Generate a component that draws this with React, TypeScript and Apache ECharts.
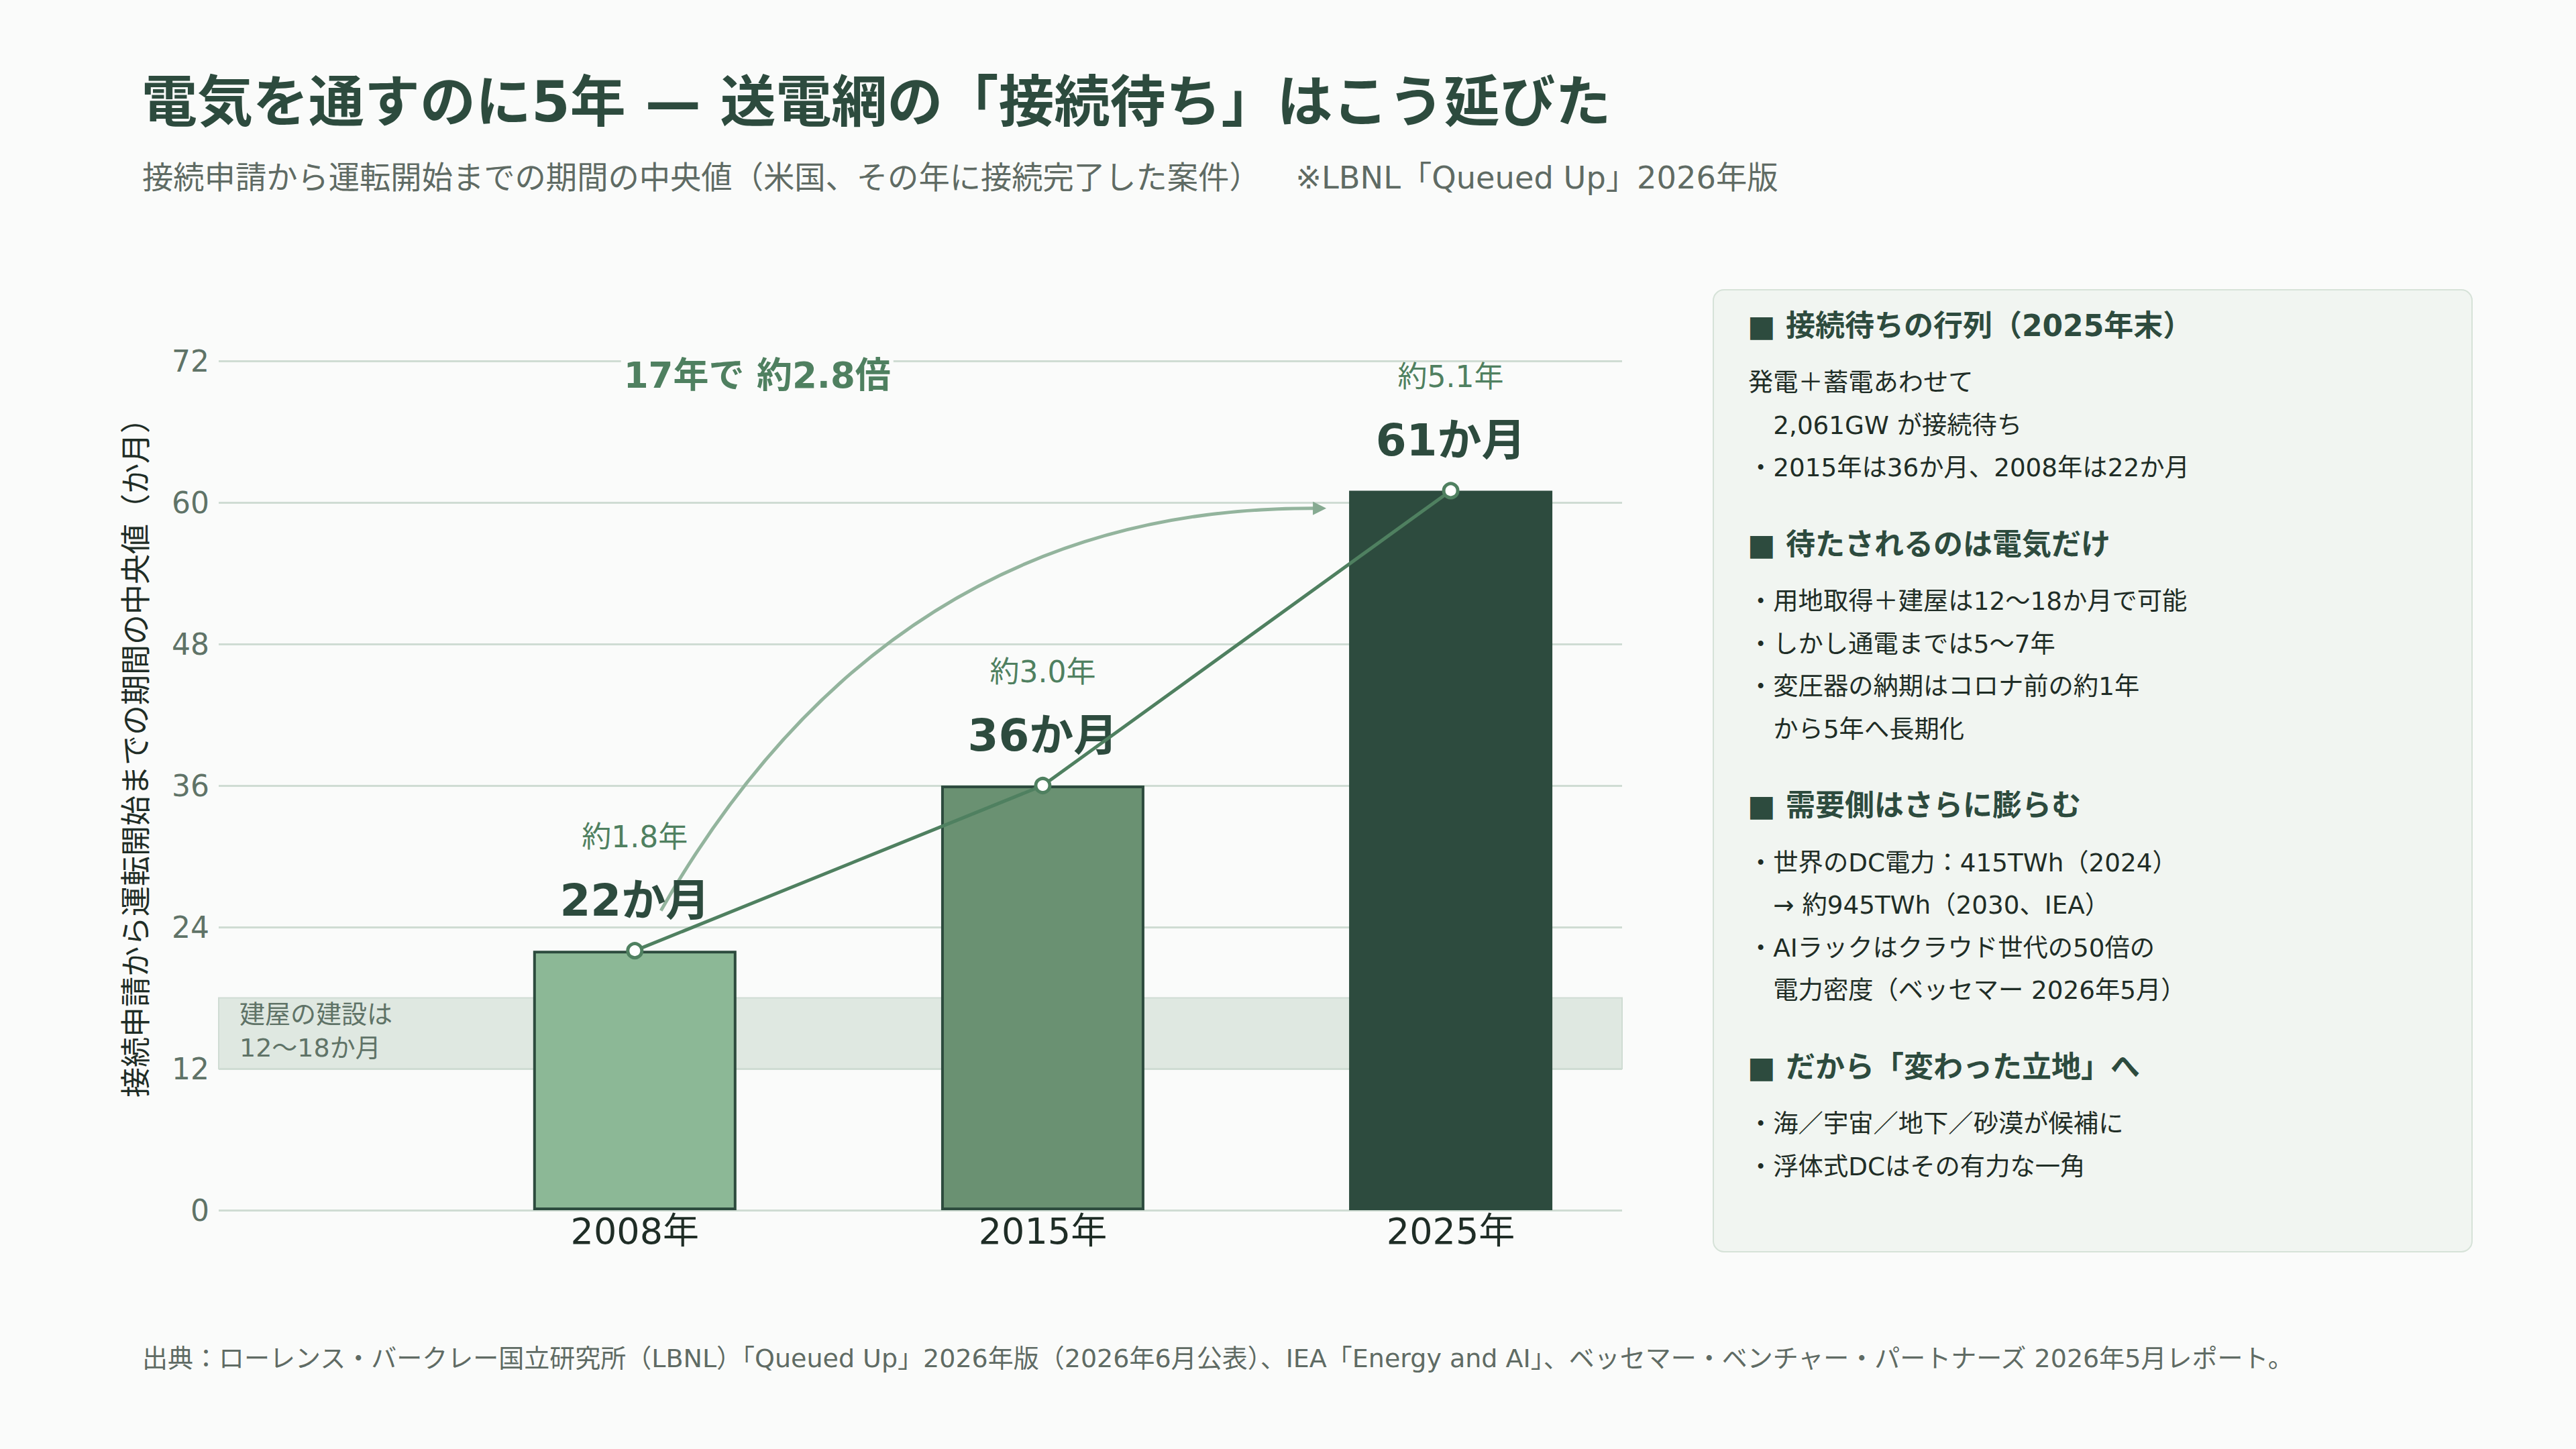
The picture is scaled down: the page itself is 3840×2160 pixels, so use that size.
import React, { useEffect, useRef } from 'react';
import * as echarts from 'echarts';

// ---- data ----
const categories = ['2008年', '2015年', '2025年'];
const xPositions = [0, 1, 2];
const months = [22, 36, 61];
const yearLabels = ['約1.8年', '約3.0年', '約5.1年'];
const barColors = ['#8cb896', '#6a9172', '#2d4b3e'];
const buildBand = [12, 18];
const buildBandLabel = '建屋の建設は\n12〜18か月';
const ratioLabel = '17年で 約2.8倍';
const yAxisName = '接続申請から運転開始までの期間の中央値（か月）';

const titleText = '電気を通すのに5年 — 送電網の「接続待ち」はこう延びた';
const subtitleText = '接続申請から運転開始までの期間の中央値（米国、その年に接続完了した案件）　  ※LBNL「Queued Up」2026年版';
const footerText = '出典：ローレンス・バークレー国立研究所（LBNL）「Queued Up」2026年版（2026年6月公表）、IEA「Energy and AI」、ベッセマー・ベンチャー・パートナーズ 2026年5月レポート。';

const panelHeads = [
  '■ 接続待ちの行列（2025年末）',
  '■ 待たされるのは電気だけ',
  '■ 需要側はさらに膨らむ',
  '■ だから「変わった立地」へ',
];
const panelLines1 = ['発電＋蓄電あわせて', '　2,061GW が接続待ち', '・2015年は36か月、2008年は22か月'];
const panelLines2 = ['・用地取得＋建屋は12〜18か月で可能', '・しかし通電までは5〜7年', '・変圧器の納期はコロナ前の約1年', '　から5年へ長期化'];
const panelLines3 = ['・世界のDC電力：415TWh（2024）', '　→ 約945TWh（2030、IEA）', '・AIラックはクラウド世代の50倍の', '　電力密度（ベッセマー 2026年5月）'];
const panelLines4 = ['・海／宇宙／地下／砂漠が候補に', '・浮体式DCはその有力な一角'];
const panelSections = [panelLines1, panelLines2, panelLines3, panelLines4];

// annotation anchors (data space)
const arrowStart = [0.064, 25.4];
const arrowCtrl = [0.632, 59.7];
const arrowTip = [1.695, 59.5];
const ratioAnchor = [0.3, 70.75];

const FONT = '"DejaVu Sans", "Noto Sans CJK JP", sans-serif';
const DARK = '#2d4b3e';
const MID = '#4f8060';
const TEXT = '#1f2d26';
const GREY = '#5f6b64';
const BG = '#fafbfa';

export default function App() {
  const ref = useRef<HTMLDivElement>(null);

  useEffect(() => {
    document.body.style.margin = '0';
    const chart = echarts.init(ref.current!, null, { renderer: 'svg' });

    const option: any = {
      animation: false,
      backgroundColor: BG,
      textStyle: { fontFamily: FONT },
      grid: { left: 326, right: 1422, top: 538, bottom: 356 },
      xAxis: {
        type: 'value',
        min: -1.02,
        max: 2.42,
        axisLine: { show: false },
        axisTick: { show: false },
        splitLine: { show: false },
        axisLabel: {
          customValues: xPositions,
          formatter: (v: number) => categories[Math.round(v)] ?? '',
          fontSize: 54,
          color: TEXT,
          margin: 4,
          fontFamily: FONT,
        },
      },
      yAxis: {
        type: 'value',
        min: 0,
        max: 72,
        interval: 12,
        name: yAxisName,
        nameLocation: 'middle',
        nameRotate: 90,
        nameGap: 100,
        nameTextStyle: { fontSize: 45, color: TEXT, fontFamily: FONT, padding: [0, 0, 0, 105] },
        axisLine: { show: false },
        axisTick: { show: false },
        axisLabel: { fontSize: 44, color: '#5f7367', margin: 14, fontFamily: FONT },
        splitLine: { show: true, lineStyle: { color: '#cfdcd3', width: 3 } },
      },
      series: [
        {
          type: 'bar',
          barWidth: 303,
          data: months.map((v, i) => ({
            value: [xPositions[i], v],
            itemStyle: { color: barColors[i], borderColor: DARK, borderWidth: 4 },
          })),
          label: {
            show: true,
            position: 'top',
            distance: 30,
            formatter: (p: any) => `{a|${yearLabels[p.dataIndex]}}\n{b|${months[p.dataIndex]}か月}`,
            rich: {
              a: { fontSize: 44, color: MID, lineHeight: 100, fontFamily: FONT },
              b: { fontSize: 66, fontWeight: 'bold', color: DARK, lineHeight: 90, fontFamily: FONT },
            },
          },
          markArea: {
            silent: true,
            itemStyle: { color: '#dfe8e1', borderColor: '#cfdcd3', borderWidth: 2 },
            label: {
              show: true,
              position: 'insideTopLeft',
              distance: 0,
              padding: [0, 0, 0, 32],
              fontSize: 38,
              lineHeight: 50,
              color: '#5f7367',
              fontFamily: FONT,
              formatter: buildBandLabel,
            },
            data: [[{ yAxis: buildBand[0] }, { yAxis: buildBand[1] }]],
          },
        },
        {
          type: 'line',
          data: months.map((v, i) => [xPositions[i], v]),
          symbol: 'circle',
          symbolSize: 21,
          showSymbol: true,
          lineStyle: { color: MID, width: 5 },
          itemStyle: { color: '#ffffff', borderColor: MID, borderWidth: 5 },
          z: 5,
        },
      ],
    };
    chart.setOption(option);

    const px = (p: number[]) => chart.convertToPixel({ seriesIndex: 0 }, p) as number[];
    const s = px(arrowStart);
    const c = px(arrowCtrl);
    const t = px(arrowTip);
    const dx = t[0] - c[0];
    const dy = t[1] - c[1];
    const len = Math.hypot(dx, dy);
    const ux = dx / len;
    const uy = dy / len;
    const headLen = 20;
    const headHalf = 10;
    const lineEnd = [t[0] - ux * (headLen - 4), t[1] - uy * (headLen - 4)];
    const base = [t[0] - ux * headLen, t[1] - uy * headLen];
    const r = px(ratioAnchor);

    const graphic: any[] = [];
    graphic.push({
      type: 'bezierCurve',
      z: 1,
      shape: { x1: s[0], y1: s[1], x2: lineEnd[0], y2: lineEnd[1], cpx1: c[0], cpy1: c[1] },
      style: { stroke: '#93b49d', lineWidth: 5, fill: 'none' },
    });
    graphic.push({
      type: 'polygon',
      z: 1,
      shape: {
        points: [
          [t[0], t[1]],
          [base[0] - uy * headHalf, base[1] + ux * headHalf],
          [base[0] + uy * headHalf, base[1] - ux * headHalf],
        ],
      },
      style: { fill: '#86aa91' },
    });
    graphic.push({
      type: 'text',
      z: 10,
      x: r[0],
      y: r[1],
      style: {
        text: ratioLabel,
        fontSize: 53,
        fontWeight: 'bold',
        fill: MID,
        fontFamily: FONT,
        align: 'center',
        verticalAlign: 'middle',
        backgroundColor: BG,
        padding: [4, 4],
      },
    });

    // titles
    graphic.push({
      type: 'text', z: 10, x: 211, y: 152,
      style: { text: titleText, fontSize: 83, fontWeight: 'bold', fill: DARK, fontFamily: FONT, verticalAlign: 'middle' },
    });
    graphic.push({
      type: 'text', z: 10, x: 212, y: 265,
      style: { text: subtitleText, fontSize: 46.3, fill: GREY, fontFamily: FONT, verticalAlign: 'middle' },
    });
    graphic.push({
      type: 'text', z: 10, x: 212, y: 2025,
      style: { text: footerText, fontSize: 38, fill: GREY, fontFamily: FONT, verticalAlign: 'middle' },
    });

    // side panel
    graphic.push({
      type: 'rect', z: 5,
      shape: { x: 2554, y: 432, width: 1131, height: 1434, r: 16 },
      style: { fill: '#f1f5f1', stroke: '#d6e2d8', lineWidth: 2 },
    });
    let y = 485;
    panelSections.forEach((lines, si) => {
      graphic.push({
        type: 'text', z: 10, x: 2605, y,
        style: { text: panelHeads[si], fontSize: 44, fontWeight: 'bold', fill: DARK, fontFamily: FONT, verticalAlign: 'middle' },
      });
      y += 85;
      lines.forEach((ln, li) => {
        if (li > 0) y += 63.5;
        graphic.push({
          type: 'text', z: 10, x: 2606, y,
          style: { text: ln, fontSize: 37.3, fill: TEXT, fontFamily: FONT, verticalAlign: 'middle' },
        });
      });
      y += 114;
    });

    chart.setOption({ graphic });

    return () => chart.dispose();
  }, []);

  return (
    <div
      ref={ref}
      style={{ position: 'fixed', left: 0, top: 0, width: 3840, height: 2160, background: BG }}
    />
  );
}
